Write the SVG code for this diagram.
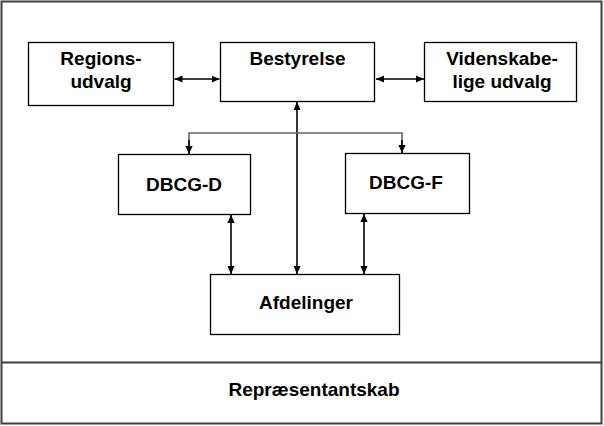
<svg xmlns="http://www.w3.org/2000/svg" width="604" height="426" viewBox="0 0 604 426">
<style>
.box{fill:#fff;stroke:#000;stroke-width:1.3}
.t{font-family:"Liberation Sans",Arial,sans-serif;font-weight:bold;font-size:19px;fill:#000;text-anchor:middle}
.c{fill:none;stroke:#000;stroke-width:1.6}
.g{fill:none;stroke:#666;stroke-width:1.6}
</style>
<defs>
<marker id="a" viewBox="0 0 10 10" refX="10" refY="5" markerWidth="8" markerHeight="8" markerUnits="userSpaceOnUse" orient="auto-start-reverse">
<path d="M0,0.5 L10,5 L0,9.5 z" fill="#000"/>
</marker>
</defs>
<rect x="0" y="0" width="604" height="426" fill="#fff"/>
<g id="frame">
<rect x="1.5" y="1.5" width="600" height="422" fill="none" stroke="#404040" stroke-width="2"/>
<line x1="1.5" y1="362.5" x2="601.5" y2="362.5" stroke="#404040" stroke-width="2"/>
</g>
<g id="regionsudvalg">
<rect class="box" x="28.5" y="42.5" width="145" height="63"/>
<text class="t" x="101" y="64.5">Regions-</text>
<text class="t" x="101" y="87.5">udvalg</text>
</g>
<g id="bestyrelse">
<rect class="box" x="220.5" y="42.5" width="154" height="59"/>
<text class="t" x="297.5" y="64.5">Bestyrelse</text>
</g>
<g id="videnskabelige">
<rect class="box" x="424.5" y="42.5" width="152" height="59"/>
<text class="t" x="502" y="64.5">Videnskabe-</text>
<text class="t" x="502" y="87.5">lige udvalg</text>
</g>
<g id="dbcgd">
<rect class="box" x="118.5" y="154.5" width="132" height="60"/>
<text class="t" x="184" y="190.5">DBCG-D</text>
</g>
<g id="dbcgf">
<rect class="box" x="345.5" y="153.5" width="124" height="60"/>
<text class="t" x="406" y="188.5">DBCG-F</text>
</g>
<g id="afdelinger">
<rect class="box" x="210.5" y="274.5" width="189" height="60"/>
<text class="t" x="306" y="308.5">Afdelinger</text>
</g>
<g id="repraesentantskab">
<text class="t" x="314" y="395.5">Repræsentantskab</text>
</g>
<g id="connectors">
<line class="c" x1="174.5" y1="79" x2="219.5" y2="79" marker-start="url(#a)" marker-end="url(#a)"/>
<line class="c" x1="376" y1="79" x2="424" y2="79" marker-start="url(#a)" marker-end="url(#a)"/>
<line class="c" x1="297" y1="102" x2="297" y2="274" marker-start="url(#a)" marker-end="url(#a)"/>
<polyline class="g" points="189,153.5 189,133 402,133 402,153"/>
<line class="c" x1="189" y1="140" x2="189" y2="154" marker-end="url(#a)"/>
<line class="c" x1="402" y1="140" x2="402" y2="153" marker-end="url(#a)"/>
<line class="c" x1="231" y1="215" x2="231" y2="274" marker-start="url(#a)" marker-end="url(#a)"/>
<line class="c" x1="364" y1="214" x2="364" y2="274" marker-start="url(#a)" marker-end="url(#a)"/>
</g>
</svg>
